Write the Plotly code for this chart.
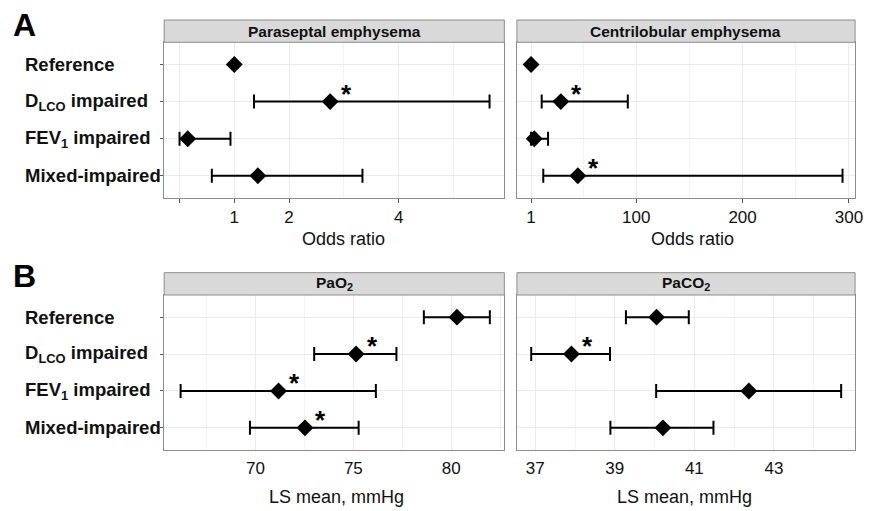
import plotly.graph_objects as go

W, H = 872, 511

# ---------------- data ----------------
categories = ["Reference", "D<sub>LCO</sub> impaired", "FEV<sub>1</sub> impaired", "Mixed-impaired"]

para_est = [1.0, 2.75, 0.15, 1.43]
para_lo = [None, 1.36, 0.0, 0.59]
para_hi = [None, 5.66, 0.93, 3.34]
para_sig = [False, True, False, False]

centri_est = [1.0, 29.0, 4.0, 45.0]
centri_lo = [None, 11.0, 1.0, 12.5]
centri_hi = [None, 92.0, 17.0, 294.0]
centri_sig = [False, True, False, True]

pao2_est = [80.29, 75.14, 71.18, 72.53]
pao2_lo = [78.60, 73.00, 66.18, 69.72]
pao2_hi = [81.97, 77.20, 76.15, 75.27]
pao2_sig = [False, True, True, True]

paco2_est = [40.05, 37.91, 42.37, 40.21]
paco2_lo = [39.28, 36.90, 40.04, 38.89]
paco2_hi = [40.86, 38.88, 44.69, 41.48]
paco2_sig = [False, True, False, False]

panel_titles = ["Paraseptal emphysema", "Centrilobular emphysema", "PaO<sub>2</sub>", "PaCO<sub>2</sub>"]
x_titles = ["Odds ratio", "Odds ratio", "LS mean, mmHg", "LS mean, mmHg"]

para_ticks = [0, 1, 2, 4]
para_ticktext = ["", "1", "2", "4"]
centri_ticks = [1, 100, 200, 300]
pao2_ticks = [70, 75, 80]
paco2_ticks = [37, 39, 41, 43]

FONT = "Liberation Sans, Arial, Helvetica, sans-serif"

# ---------------- layout helpers (pixel -> paper) ----------------
def px(x):
    return x / W

def py(y):
    return 1 - y / H

colL = [px(165.7), px(509.0)]
colR = [px(521.7), px(863.0)]
rowA = [py(198.0), py(42.3)]
rowB = [py(450.0), py(295.0)]
stripA = (py(42.3), py(20.0))
stripB = (py(295.0), py(272.7))

ylabels = ["<b>" + c + "</b>" for c in categories]

fig = go.Figure()

panels = [
    ("x", "y", para_est, para_lo, para_hi, para_sig),
    ("x2", "y2", centri_est, centri_lo, centri_hi, centri_sig),
    ("x3", "y3", pao2_est, pao2_lo, pao2_hi, pao2_sig),
    ("x4", "y4", paco2_est, paco2_lo, paco2_hi, paco2_sig),
]

# reference line at OR = 1 (drawn as a trace so it sits under the markers)
for xa, ya in [("x", "y"), ("x2", "y2")]:
    fig.add_trace(go.Scatter(
        x=[1, 1], y=[-0.6, 3.6], xaxis=xa, yaxis=ya, mode="lines",
        line=dict(color="#555555", width=1.5), showlegend=False, hoverinfo="skip",
    ))

annotations = []
for xa, ya, est, lo, hi, sig in panels:
    plus = [(h - e) if h is not None else None for e, h in zip(est, hi)]
    minus = [(e - l) if l is not None else None for e, l in zip(est, lo)]
    fig.add_trace(go.Scatter(
        x=est, y=ylabels, xaxis=xa, yaxis=ya, mode="markers",
        marker=dict(symbol="diamond", size=13, color="black"),
        error_x=dict(type="data", symmetric=False, array=plus, arrayminus=minus,
                     thickness=2, width=7, color="black"),
        showlegend=False, hoverinfo="x+y",
    ))
    for e, c, s in zip(est, ylabels, sig):
        if s:
            annotations.append(dict(
                x=e, y=c, xref=xa, yref=ya, text="<b>*</b>", showarrow=False,
                xshift=16, yshift=8, font=dict(family=FONT, size=26, color="black"),
            ))

# row labels (left-aligned, as in the reference)
for ya in ["y", "y3"]:
    for c in ylabels:
        annotations.append(dict(
            x=px(23), y=c, xref="paper", yref=ya, text=c, showarrow=False,
            xanchor="left", yanchor="middle",
            font=dict(family=FONT, size=18.5, color="#111111"),
        ))

grid_major = "#ebebeb"
grid_minor = "#f3f3f3"
border = "#8c8c8c"

def xaxis(domain, anchor, rng, tickvals, ticktext, minor_vals, ticks, standoff):
    return dict(
        domain=domain, anchor=anchor, range=rng, tickmode="array",
        tickvals=tickvals, ticktext=ticktext,
        showgrid=True, gridcolor=grid_major, gridwidth=1,
        minor=dict(tickmode="array", tickvals=minor_vals, showgrid=True,
                   gridcolor=grid_minor, gridwidth=1, ticks=""),
        showline=True, linecolor=border, linewidth=1, mirror=True,
        ticks=ticks, ticklen=4, tickcolor="#555555", tickwidth=1,
        ticklabelstandoff=standoff,
        tickfont=dict(family=FONT, size=17, color="#111111"),
        zeroline=False, fixedrange=True,
    )

def yaxis(domain, anchor, showticks):
    return dict(
        domain=domain, anchor=anchor, type="category",
        categoryorder="array", categoryarray=ylabels, range=[3.6, -0.6],
        showgrid=True, gridcolor=grid_major, gridwidth=1,
        showline=True, linecolor=border, linewidth=1, mirror=True,
        showticklabels=False,
        ticks="outside" if showticks else "", ticklen=3, tickcolor="#555555",
        zeroline=False, fixedrange=True,
    )

fig.update_layout(
    width=W, height=H,
    margin=dict(l=0, r=0, t=0, b=0),
    paper_bgcolor="white", plot_bgcolor="white",
    font=dict(family=FONT, color="#111111"),
    xaxis=xaxis(colL, "y", [-0.28, 5.93], para_ticks, para_ticktext, [3, 5], "outside", 0),
    yaxis=yaxis(rowA, "x", True),
    xaxis2=xaxis(colR, "y2", [-12.3, 305.8], centri_ticks, [str(v) for v in centri_ticks],
                 [50, 150, 250], "outside", 0),
    yaxis2=yaxis(rowA, "x2", False),
    xaxis3=xaxis(colL, "y3", [65.34, 82.71], pao2_ticks, [str(v) for v in pao2_ticks],
                 [67.5, 72.5, 77.5, 82.5], "", 3),
    yaxis3=yaxis(rowB, "x3", True),
    xaxis4=xaxis(colR, "y4", [36.54, 45.04], paco2_ticks, [str(v) for v in paco2_ticks],
                 [38, 40, 42, 44], "", 3),
    yaxis4=yaxis(rowB, "x4", False),
)

shapes = []
for col, strip in [(colL, stripA), (colR, stripA), (colL, stripB), (colR, stripB)]:
    shapes.append(dict(type="rect", xref="paper", yref="paper",
                       x0=col[0], x1=col[1], y0=strip[0], y1=strip[1],
                       fillcolor="#d9d9d9", line=dict(color=border, width=1), layer="above"))

strip_pos = [(colL, stripA), (colR, stripA), (colL, stripB), (colR, stripB)]
for title, (col, strip) in zip(panel_titles, strip_pos):
    annotations.append(dict(
        x=(col[0] + col[1]) / 2, y=(strip[0] + strip[1]) / 2, xref="paper", yref="paper",
        text="<b>" + title + "</b>", showarrow=False, xanchor="center", yanchor="middle",
        font=dict(family=FONT, size=15.5, color="#111111"),
    ))

# axis titles
title_pos = [(346.7, 239), (699.0, 239), (339.5, 497), (690.5, 497)]
for t, (tx, ty) in zip(x_titles, title_pos):
    annotations.append(dict(
        x=px(tx), y=py(ty), xref="paper", yref="paper", text=t, showarrow=False,
        xanchor="center", yanchor="middle", font=dict(family=FONT, size=18, color="#111111"),
    ))

# panel letters
for letter, (lx, ly) in [("A", (25, 25)), ("B", (25, 275.5))]:
    annotations.append(dict(
        x=px(lx), y=py(ly), xref="paper", yref="paper", text="<b>" + letter + "</b>",
        showarrow=False, xanchor="center", yanchor="middle",
        font=dict(family=FONT, size=32, color="black"),
    ))

fig.update_layout(shapes=shapes, annotations=annotations)

fig.write_html(
    "out.html", config={"displayModeBar": False},
    post_script=(
        "document.documentElement.style.overflow='hidden';"
        "document.body.style.margin='0';document.body.style.overflow='hidden';"
    ),
)
